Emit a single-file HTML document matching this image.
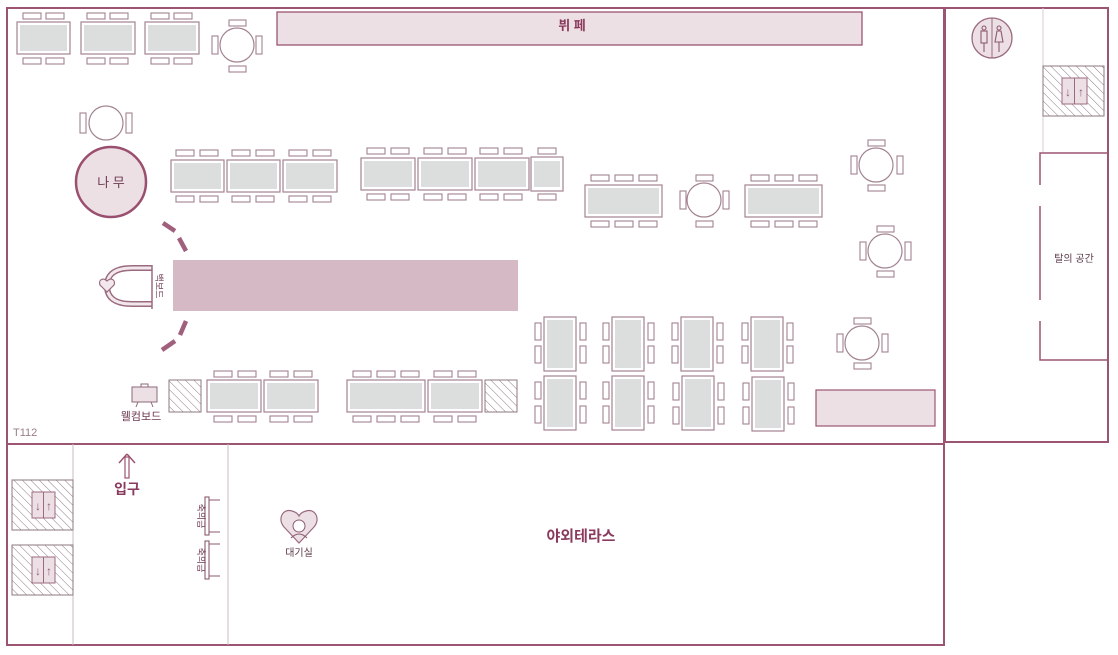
<!DOCTYPE html>
<html><head><meta charset="utf-8"><style>
html,body{margin:0;padding:0;background:#fff;}
svg{display:block;font-family:"Liberation Sans","Noto Sans CJK KR",sans-serif;}
.t{fill:#fff;stroke:#a2838f;stroke-width:1.2}
.g{fill:#dcdedd}
.c{fill:#fff;stroke:#a2838f;stroke-width:1.1}
.w{stroke:#9b5472;fill:none;stroke-width:2}
.thin{stroke:#c8bcc1;stroke-width:1;fill:none}
.h{fill:url(#hatch);stroke:#8c7880;stroke-width:1}
</style></head><body>
<svg width="1118" height="655" viewBox="0 0 1118 655">
<defs>
<pattern id="hatch" width="6" height="6" patternUnits="userSpaceOnUse" patternTransform="rotate(-45)">
<rect width="6" height="6" fill="#fff"/><line x1="0" y1="0" x2="0" y2="6" stroke="#8c7880" stroke-width="1"/>
</pattern>
</defs>
<!-- walls -->
<rect x="7" y="8" width="937" height="637" class="w"/>
<line x1="7" y1="444" x2="944" y2="444" class="w"/>
<rect x="945" y="8" width="163" height="434" class="w"/>
<line x1="73" y1="444" x2="73" y2="645" class="thin"/>
<line x1="228" y1="444" x2="228" y2="645" class="thin"/>

<!-- top row tables -->
<g>
<rect x="17" y="22" width="53" height="32" class="t"/><rect x="20" y="25" width="47" height="26" class="g" fill="#d6dada"/>
<rect x="23" y="13" width="18" height="6" class="c"/><rect x="46" y="13" width="18" height="6" class="c"/>
<rect x="23" y="58" width="18" height="6" class="c"/><rect x="46" y="58" width="18" height="6" class="c"/>
<rect x="81" y="22" width="54" height="32" class="t"/><rect x="84" y="25" width="48" height="26" class="g"/>
<rect x="87" y="13" width="18" height="6" class="c"/><rect x="110" y="13" width="18" height="6" class="c"/>
<rect x="87" y="58" width="18" height="6" class="c"/><rect x="110" y="58" width="18" height="6" class="c"/>
<rect x="145" y="22" width="54" height="32" class="t"/><rect x="148" y="25" width="48" height="26" class="g"/>
<rect x="151" y="13" width="18" height="6" class="c"/><rect x="174" y="13" width="18" height="6" class="c"/>
<rect x="151" y="58" width="18" height="6" class="c"/><rect x="174" y="58" width="18" height="6" class="c"/>
<circle cx="237" cy="45" r="17" class="t"/>
<rect x="229" y="20" width="17" height="6" class="c"/><rect x="229" y="66" width="17" height="6" class="c"/>
<rect x="212" y="36" width="6" height="18" class="c"/><rect x="256" y="36" width="6" height="18" class="c"/>
</g>
<!-- buffet -->
<rect x="277" y="12" width="585" height="33" fill="#ede0e5" stroke="#9b5472" stroke-width="1.3"/>
<text x="572" y="30" font-size="13" fill="#8a3a5c" text-anchor="middle" font-weight="bold">뷔 페</text>

<!-- round + tree -->
<circle cx="106" cy="123" r="17" class="t"/>
<rect x="80" y="113" width="6" height="20" class="c"/><rect x="126" y="113" width="6" height="20" class="c"/>
<circle cx="111" cy="182" r="35" fill="#ede0e5" stroke="#9b4f6e" stroke-width="2.5"/>
<text x="111" y="187" font-size="13" fill="#6d3a50" text-anchor="middle">나 무</text>

<!-- middle row group A -->
<g>
<rect x="171" y="160" width="53" height="32" class="t"/><rect x="174" y="163" width="47" height="26" class="g"/>
<rect x="227" y="160" width="53" height="32" class="t"/><rect x="230" y="163" width="47" height="26" class="g"/>
<rect x="283" y="160" width="54" height="32" class="t"/><rect x="286" y="163" width="48" height="26" class="g"/>
<rect x="176" y="150" width="18" height="6" class="c"/><rect x="200" y="150" width="18" height="6" class="c"/>
<rect x="232" y="150" width="18" height="6" class="c"/><rect x="256" y="150" width="18" height="6" class="c"/>
<rect x="289" y="150" width="18" height="6" class="c"/><rect x="313" y="150" width="18" height="6" class="c"/>
<rect x="176" y="196" width="18" height="6" class="c"/><rect x="200" y="196" width="18" height="6" class="c"/>
<rect x="232" y="196" width="18" height="6" class="c"/><rect x="256" y="196" width="18" height="6" class="c"/>
<rect x="289" y="196" width="18" height="6" class="c"/><rect x="313" y="196" width="18" height="6" class="c"/>
</g>
<!-- group B -->
<g>
<rect x="361" y="158" width="54" height="32" class="t"/><rect x="364" y="161" width="48" height="26" class="g"/>
<rect x="418" y="158" width="54" height="32" class="t"/><rect x="421" y="161" width="48" height="26" class="g"/>
<rect x="475" y="158" width="54" height="32" class="t"/><rect x="478" y="161" width="48" height="26" class="g"/>
<rect x="531" y="157" width="32" height="34" class="t"/><rect x="534" y="161" width="26" height="26" class="g"/>
<rect x="367" y="148" width="18" height="6" class="c"/><rect x="391" y="148" width="18" height="6" class="c"/>
<rect x="424" y="148" width="18" height="6" class="c"/><rect x="448" y="148" width="18" height="6" class="c"/>
<rect x="480" y="148" width="18" height="6" class="c"/><rect x="504" y="148" width="18" height="6" class="c"/>
<rect x="538" y="148" width="18" height="6" class="c"/>
<rect x="367" y="194" width="18" height="6" class="c"/><rect x="391" y="194" width="18" height="6" class="c"/>
<rect x="424" y="194" width="18" height="6" class="c"/><rect x="448" y="194" width="18" height="6" class="c"/>
<rect x="480" y="194" width="18" height="6" class="c"/><rect x="504" y="194" width="18" height="6" class="c"/>
<rect x="538" y="194" width="18" height="6" class="c"/>
</g>
<!-- right side tables -->
<g>
<rect x="585" y="185" width="77" height="32" class="t"/><rect x="588" y="188" width="71" height="26" class="g"/>
<rect x="591" y="175" width="18" height="6" class="c"/><rect x="615" y="175" width="18" height="6" class="c"/><rect x="639" y="175" width="18" height="6" class="c"/>
<rect x="591" y="221" width="18" height="6" class="c"/><rect x="615" y="221" width="18" height="6" class="c"/><rect x="639" y="221" width="18" height="6" class="c"/>
<circle cx="704" cy="200" r="17" class="t"/>
<rect x="696" y="175" width="17" height="6" class="c"/><rect x="696" y="221" width="17" height="6" class="c"/>
<rect x="680" y="191" width="6" height="18" class="c"/><rect x="723" y="191" width="6" height="18" class="c"/>
<rect x="745" y="185" width="77" height="32" class="t"/><rect x="748" y="188" width="71" height="26" class="g"/>
<rect x="751" y="175" width="18" height="6" class="c"/><rect x="775" y="175" width="18" height="6" class="c"/><rect x="799" y="175" width="18" height="6" class="c"/>
<rect x="751" y="221" width="18" height="6" class="c"/><rect x="775" y="221" width="18" height="6" class="c"/><rect x="799" y="221" width="18" height="6" class="c"/>
<circle cx="876" cy="165" r="17" class="t"/>
<rect x="868" y="140" width="17" height="6" class="c"/><rect x="868" y="185" width="17" height="6" class="c"/>
<rect x="851" y="156" width="6" height="18" class="c"/><rect x="897" y="156" width="6" height="18" class="c"/>
<circle cx="885" cy="251" r="17" class="t"/>
<rect x="877" y="226" width="17" height="6" class="c"/><rect x="877" y="271" width="17" height="6" class="c"/>
<rect x="860" y="242" width="6" height="18" class="c"/><rect x="905" y="242" width="6" height="18" class="c"/>
<circle cx="862" cy="343" r="17" class="t"/>
<rect x="854" y="318" width="17" height="6" class="c"/><rect x="854" y="363" width="17" height="6" class="c"/>
<rect x="837" y="334" width="6" height="18" class="c"/><rect x="882" y="334" width="6" height="18" class="c"/>
<rect x="816" y="390" width="119" height="36" fill="#ede0e5" stroke="#9b5472" stroke-width="1.2"/>
</g>

<!-- aisle -->
<rect x="173" y="260" width="345" height="51" fill="#d5b9c4"/>
<g stroke="#a0607c" stroke-width="4.5" stroke-linecap="butt">
<line x1="163" y1="223" x2="175" y2="231"/><line x1="179" y1="238" x2="186" y2="251"/>
<line x1="186" y1="321" x2="180" y2="335"/><line x1="175" y1="341" x2="162" y2="350"/>
</g>
<!-- backboard arch -->
<path d="M152 268 L132 268 Q107 268 107 286 Q107 304 132 304 L152 304" fill="none" stroke="#9b6a80" stroke-width="6"/>
<path d="M152 268 L132 268 Q107 268 107 286 Q107 304 132 304 L152 304" fill="none" stroke="#f2e8ec" stroke-width="3"/>
<path d="M107 281 C103 277 98 280 100 285 L107 292 L114 285 C116 280 111 277 107 281Z" fill="#f2e8ec" stroke="#9b6a80" stroke-width="1.2"/>
<line x1="152" y1="265" x2="152" y2="309" stroke="#9b6a80" stroke-width="1.5"/>
<text font-size="9" fill="#6d3a50" transform="translate(156,286) rotate(90)" text-anchor="middle">백보드</text>

<!-- welcome board -->
<rect x="132" y="387" width="25" height="15" fill="#ede0e5" stroke="#8c6a78" stroke-width="1"/>
<rect x="141" y="384" width="7" height="3" fill="none" stroke="#8c6a78" stroke-width="1"/>
<line x1="138" y1="402" x2="136" y2="407" stroke="#8c6a78"/><line x1="151" y1="402" x2="153" y2="407" stroke="#8c6a78"/>
<text x="141" y="420" font-size="11" fill="#6d3a50" text-anchor="middle">웰컴보드</text>
<rect x="169" y="380" width="32" height="32" class="h"/>
<rect x="485" y="380" width="32" height="32" class="h"/>
<g>
<rect x="207" y="380" width="54" height="32" class="t"/><rect x="210" y="383" width="48" height="26" class="g"/>
<rect x="264" y="380" width="54" height="32" class="t"/><rect x="267" y="383" width="48" height="26" class="g"/>
<rect x="214" y="371" width="18" height="6" class="c"/><rect x="238" y="371" width="18" height="6" class="c"/>
<rect x="270" y="371" width="18" height="6" class="c"/><rect x="294" y="371" width="18" height="6" class="c"/>
<rect x="214" y="416" width="18" height="6" class="c"/><rect x="238" y="416" width="18" height="6" class="c"/>
<rect x="270" y="416" width="18" height="6" class="c"/><rect x="294" y="416" width="18" height="6" class="c"/>
<rect x="347" y="380" width="78" height="32" class="t"/><rect x="350" y="383" width="72" height="26" class="g"/>
<rect x="428" y="380" width="54" height="32" class="t"/><rect x="431" y="383" width="48" height="26" class="g"/>
<rect x="353" y="371" width="18" height="6" class="c"/><rect x="377" y="371" width="18" height="6" class="c"/><rect x="401" y="371" width="18" height="6" class="c"/>
<rect x="434" y="371" width="18" height="6" class="c"/><rect x="458" y="371" width="18" height="6" class="c"/>
<rect x="353" y="416" width="18" height="6" class="c"/><rect x="377" y="416" width="18" height="6" class="c"/><rect x="401" y="416" width="18" height="6" class="c"/>
<rect x="434" y="416" width="18" height="6" class="c"/><rect x="458" y="416" width="18" height="6" class="c"/>
</g>

<!-- vertical tables grid -->
<g>
<rect x="544" y="317" width="32" height="54" class="t"/><rect x="547" y="320" width="26" height="48" class="g"/>
<rect x="612" y="317" width="32" height="54" class="t"/><rect x="615" y="320" width="26" height="48" class="g"/>
<rect x="681" y="317" width="32" height="54" class="t"/><rect x="684" y="320" width="26" height="48" class="g"/>
<rect x="751" y="317" width="32" height="54" class="t"/><rect x="754" y="320" width="26" height="48" class="g"/>
<rect x="544" y="376" width="32" height="54" class="t"/><rect x="547" y="379" width="26" height="48" class="g"/>
<rect x="612" y="376" width="32" height="54" class="t"/><rect x="615" y="379" width="26" height="48" class="g"/>
<rect x="682" y="376" width="32" height="54" class="t"/><rect x="685" y="379" width="26" height="48" class="g"/>
<rect x="752" y="377" width="32" height="54" class="t"/><rect x="755" y="380" width="26" height="48" class="g"/>
<rect x="535" y="323" width="6" height="17" class="c"/><rect x="535" y="346" width="6" height="17" class="c"/>
<rect x="580" y="323" width="6" height="17" class="c"/><rect x="580" y="346" width="6" height="17" class="c"/>
<rect x="603" y="323" width="6" height="17" class="c"/><rect x="603" y="346" width="6" height="17" class="c"/>
<rect x="648" y="323" width="6" height="17" class="c"/><rect x="648" y="346" width="6" height="17" class="c"/>
<rect x="672" y="323" width="6" height="17" class="c"/><rect x="672" y="346" width="6" height="17" class="c"/>
<rect x="717" y="323" width="6" height="17" class="c"/><rect x="717" y="346" width="6" height="17" class="c"/>
<rect x="742" y="323" width="6" height="17" class="c"/><rect x="742" y="346" width="6" height="17" class="c"/>
<rect x="787" y="323" width="6" height="17" class="c"/><rect x="787" y="346" width="6" height="17" class="c"/>
<rect x="535" y="382" width="6" height="17" class="c"/><rect x="535" y="406" width="6" height="17" class="c"/>
<rect x="580" y="382" width="6" height="17" class="c"/><rect x="580" y="406" width="6" height="17" class="c"/>
<rect x="603" y="382" width="6" height="17" class="c"/><rect x="603" y="406" width="6" height="17" class="c"/>
<rect x="648" y="382" width="6" height="17" class="c"/><rect x="648" y="406" width="6" height="17" class="c"/>
<rect x="673" y="383" width="6" height="17" class="c"/><rect x="673" y="407" width="6" height="17" class="c"/>
<rect x="718" y="383" width="6" height="17" class="c"/><rect x="718" y="407" width="6" height="17" class="c"/>
<rect x="743" y="383" width="6" height="17" class="c"/><rect x="743" y="407" width="6" height="17" class="c"/>
<rect x="788" y="383" width="6" height="17" class="c"/><rect x="788" y="407" width="6" height="17" class="c"/>
</g>
<text x="13" y="436" font-size="11" fill="#9a7c88">T112</text>

<!-- right section -->
<circle cx="992" cy="38" r="20" fill="#ede0e5" stroke="#9b6a80" stroke-width="1.3"/>
<line x1="992" y1="18" x2="992" y2="58" stroke="#9b6a80"/>
<g fill="none" stroke="#8c5a70" stroke-width="1.1">
<circle cx="984" cy="28" r="2"/><rect x="981" y="31" width="6" height="12"/><line x1="984" y1="43" x2="984" y2="52"/>
<circle cx="999" cy="28" r="2"/><path d="M997 31 L1001 31 L1003 42 L995 42 Z"/><line x1="999" y1="42" x2="999" y2="52"/>
</g>
<line x1="1043" y1="8" x2="1043" y2="152" stroke="#d8cdd2" stroke-width="1"/>
<rect x="1043" y="66" width="61" height="50" class="h"/>
<rect x="1062" y="78" width="25" height="26" fill="#ede0e5" stroke="#9b6a80"/>
<line x1="1074.5" y1="78" x2="1074.5" y2="104" stroke="#9b6a80"/>
<text x="1068" y="96" font-size="12" fill="#8c5a70" text-anchor="middle">↓</text>
<text x="1081" y="96" font-size="12" fill="#8c5a70" text-anchor="middle">↑</text>
<g stroke="#9b5472" stroke-width="1.5" fill="none">
<path d="M1040 185 L1040 153 L1108 153"/>
<line x1="1040" y1="206" x2="1040" y2="300"/>
<path d="M1040 321 L1040 360 L1108 360"/>
</g>
<text x="1074" y="262" font-size="10" fill="#5a3a48" text-anchor="middle">탈의 공간</text>

<!-- lower elevators -->
<rect x="12" y="480" width="61" height="50" class="h"/>
<rect x="32" y="492" width="23" height="26" fill="#ede0e5" stroke="#9b6a80"/>
<line x1="43.5" y1="492" x2="43.5" y2="518" stroke="#9b6a80"/>
<text x="38" y="510" font-size="12" fill="#8c5a70" text-anchor="middle">↓</text>
<text x="49" y="510" font-size="12" fill="#8c5a70" text-anchor="middle">↑</text>
<rect x="12" y="545" width="61" height="50" class="h"/>
<rect x="32" y="557" width="23" height="26" fill="#ede0e5" stroke="#9b6a80"/>
<line x1="43.5" y1="557" x2="43.5" y2="583" stroke="#9b6a80"/>
<text x="38" y="575" font-size="12" fill="#8c5a70" text-anchor="middle">↓</text>
<text x="49" y="575" font-size="12" fill="#8c5a70" text-anchor="middle">↑</text>

<!-- entrance -->
<path d="M127 454 L119 463 M127 454 L135 463" stroke="#9b5472" stroke-width="1.5" fill="none"/>
<rect x="125" y="457" width="4" height="21" fill="#fff" stroke="#9b5472" stroke-width="1.2"/>
<text x="127" y="494" font-size="14" font-weight="bold" fill="#8a3a5c" text-anchor="middle">입구</text>

<!-- gift tables -->
<g fill="#fff" stroke="#8c5a70" stroke-width="1.1">
<rect x="205" y="497" width="4" height="38"/><path d="M209 500 L220 500 M209 532 L220 532"/>
<rect x="205" y="541" width="4" height="38"/><path d="M209 544 L220 544 M209 576 L220 576"/>
</g>
<text font-size="9" fill="#6d3a50" transform="translate(198,516) rotate(90)" text-anchor="middle">축의금</text>
<text font-size="9" fill="#6d3a50" transform="translate(198,560) rotate(90)" text-anchor="middle">축의금</text>

<!-- waiting room -->
<path d="M299 543 L284 527 C277 519 283 508 292 511 C296 512 298 514 299 516 C300 514 302 512 306 511 C315 508 321 519 314 527 Z" fill="#ede0e5" stroke="#9b6a80" stroke-width="1.2"/>
<circle cx="299" cy="526" r="6" fill="#fff" stroke="#8c5a70"/>
<path d="M291 538 Q299 530 307 538" fill="none" stroke="#8c5a70"/>
<text x="299" y="556" font-size="10" fill="#5a3a48" text-anchor="middle">대기실</text>

<text x="581" y="541" font-size="15" font-weight="bold" fill="#8a3a5c" text-anchor="middle">야외테라스</text>
</svg>
</body></html>
